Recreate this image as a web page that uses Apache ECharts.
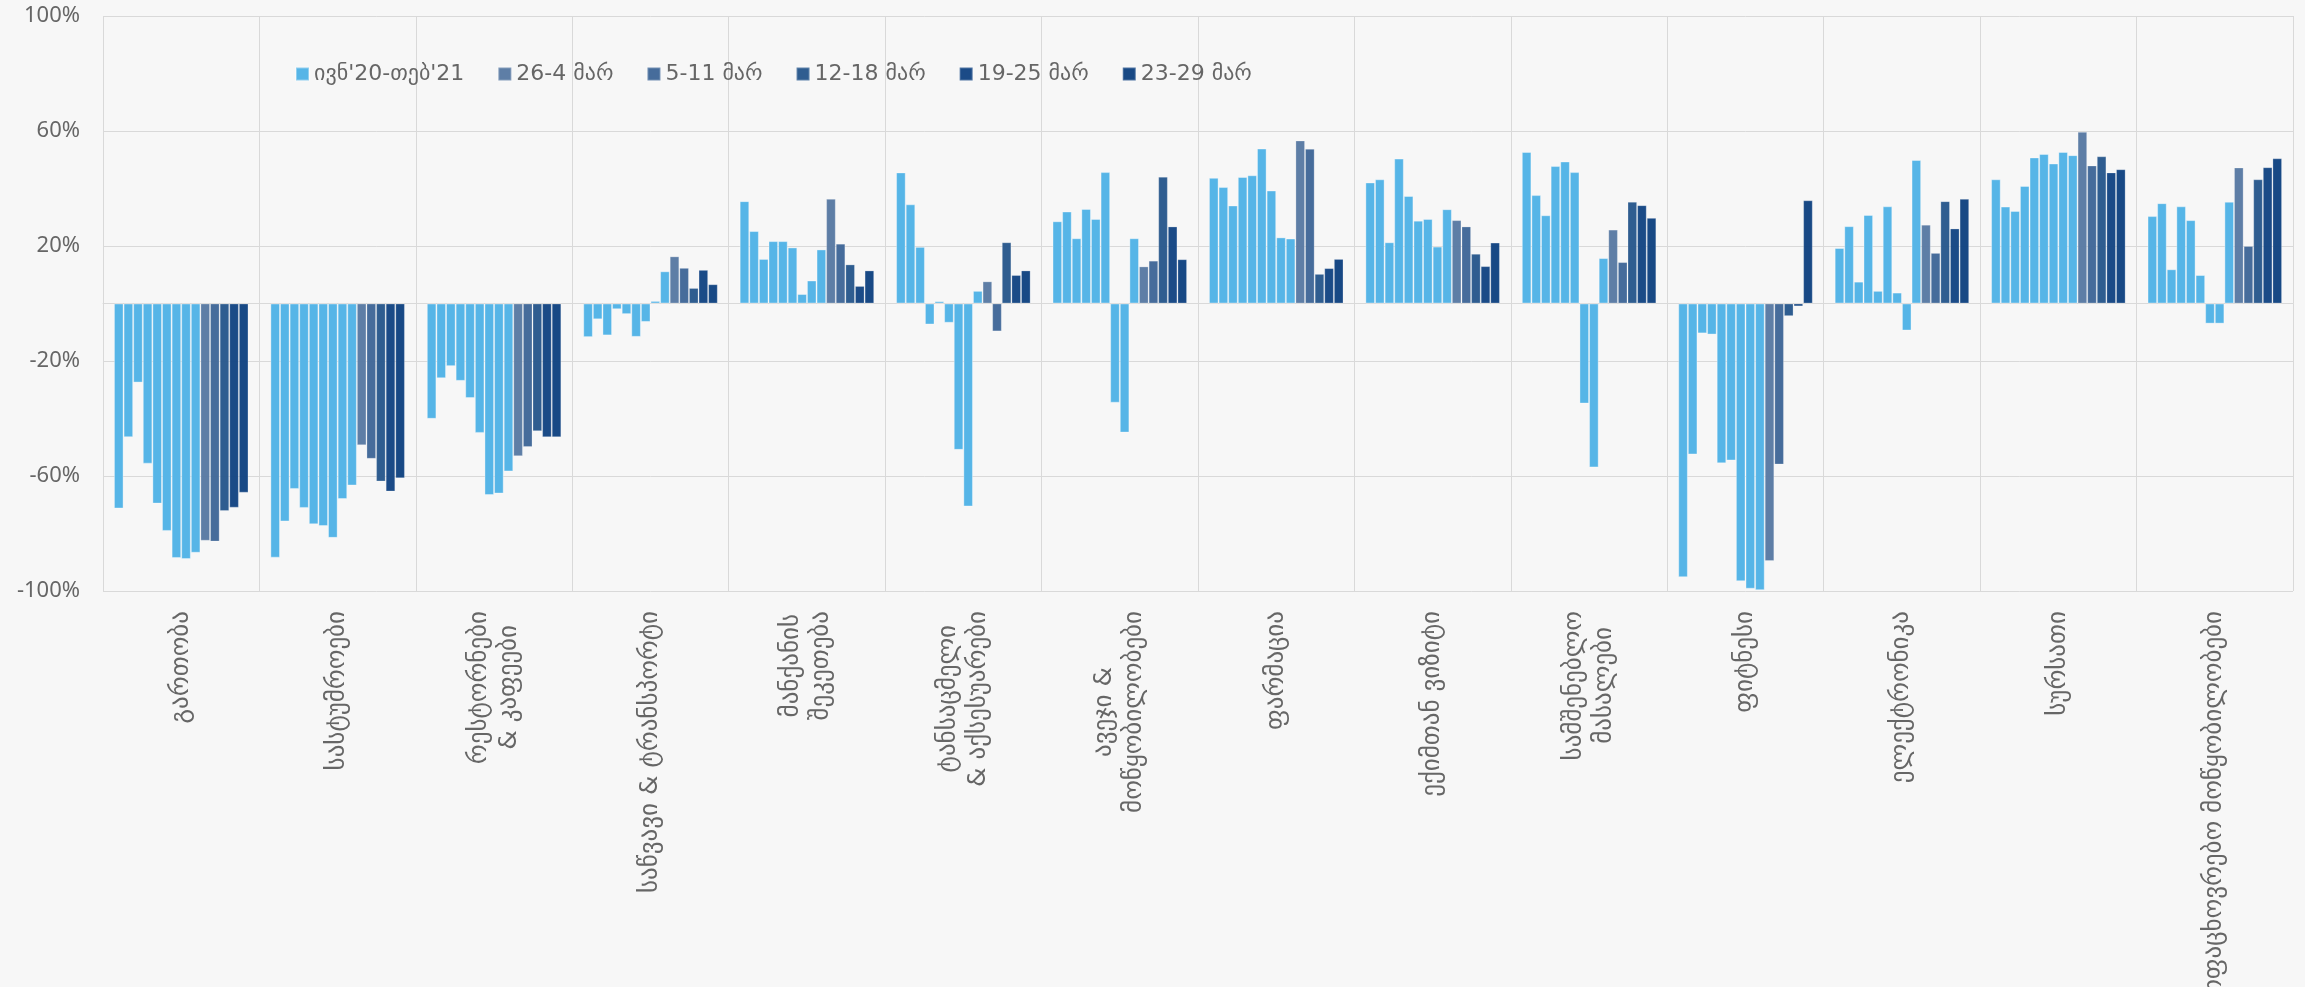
<!DOCTYPE html>
<html>
<head>
<meta charset="utf-8">
<script src="https://cdn.jsdelivr.net/npm/echarts@6/dist/echarts.min.js"></script>
<style>
html,body{margin:0;padding:0;background:#f7f7f7;}
#chart{width:2305px;height:987px;}
</style>
</head>
<body>
<div id="chart"></div>
<script>
// Categories (x-axis)
const categories = ['გართობა','სასტუმროები','რესტორნები\n& კაფეები','საწვავი & ტრანსპორტი','მანქანის\nშეკეთება','ტანსაცმელი\n& აქსესუარები','ავეჯი &\nმოწყობილობები','ფარმაცია','ექიმთან ვიზიტი','სამშენებლო\nმასალები','ფიტნესი','ელექტრონიკა','სურსათი','საყოფაცხოვრებო მოწყობილობები'];

// Y-axis ticks
const yTicks = [-100, -60, -20, 20, 60, 100];

// Monthly values (Jun'20 – Feb'21), % change
const jun20 = [-71.3, -88.4, -40.1, -11.7, 35.6, 45.6, 28.6, 43.7, 42.1, 52.7, -95.2, 19.3, 43.2, 30.4];
const jul20 = [-46.5, -75.8, -26.0, -5.5, 25.2, 34.5, 32.0, 40.5, 43.2, 37.7, -52.5, 26.9, 33.7, 34.9];
const aug20 = [-27.5, -64.5, -21.8, -11.1, 15.5, 19.7, 22.7, 34.1, 21.3, 30.7, -10.4, 7.6, 32.2, 11.9];
const sep20 = [-55.7, -71.1, -26.9, -2.0, 21.7, -7.3, 32.9, 44.0, 50.4, 47.8, -10.8, 30.8, 40.9, 33.8];
const oct20 = [-69.6, -76.8, -32.9, -3.7, 21.7, 0.8, 29.4, 44.6, 37.4, 49.4, -55.6, 4.4, 50.8, 29.0];
const nov20 = [-79.1, -77.4, -45.0, -11.6, 19.5, -6.7, 45.7, 53.9, 28.8, 45.7, -54.6, 33.8, 52.0, 9.9];
const dec20 = [-88.5, -81.5, -66.6, -6.4, 3.3, -50.9, -34.5, 39.3, 29.4, -34.8, -96.6, 3.8, 48.7, -7.0];
const jan21 = [-88.9, -68.0, -66.1, 0.9, 8.0, -70.6, -44.9, 23.0, 19.8, -57.0, -99.2, -9.4, 52.7, -7.0];
const feb21 = [-86.7, -63.3, -58.4, 11.2, 18.8, 4.4, 22.7, 22.6, 32.8, 15.8, -99.7, 49.9, 51.6, 35.4];

// Weekly values (March 2021)
const wk1 = [-82.5, -49.3, -53.1, 16.4, 36.4, 7.7, 12.9, 56.7, 29.0, 25.7, -89.6, 27.4, 59.7, 47.3];
const wk2 = [-82.8, -54.0, -49.9, 12.4, 20.8, -9.7, 14.9, 53.8, 26.8, 14.4, -56.0, 17.6, 48.0, 20.0];
const wk3 = [-72.2, -61.9, -44.4, 5.4, 13.6, 21.3, 44.1, 10.3, 17.3, 35.4, -4.4, 35.6, 51.2, 43.2];
const wk4 = [-71.0, -65.4, -46.5, 11.7, 6.1, 9.9, 26.8, 12.3, 13.0, 34.2, -1.0, 26.1, 45.6, 47.4];
const wk5 = [-65.8, -60.8, -46.5, 6.7, 11.5, 11.5, 15.4, 15.5, 21.2, 29.8, 35.9, 36.4, 46.7, 50.5];

// Legend names
const monthlyName = "ივნ'20-თებ'21";
const weeklyNames = ['26-4 მარ', '5-11 მარ', '12-18 მარ', '19-25 მარ', '23-29 მარ'];

const monthlySets = [jun20, jul20, aug20, sep20, oct20, nov20, dec20, jan21, feb21];
const weeklySets = [wk1, wk2, wk3, wk4, wk5];
const monthlyColor = '#56b5e7';
const weeklyColors = ['#5779a2', '#3e6697', '#27568b', '#124482', '#0f4280'];

const FONT = "'Noto Sans', 'DejaVu Sans', sans-serif";
const GEO = "'DejaVu Sans', 'Noto Sans', sans-serif";
const LABEL_SIZE = 25;
const LABEL_LH = 30;

// Rich styles so that lines of two-line labels are centred on one another
const measureCtx = document.createElement('canvas').getContext('2d');
measureCtx.font = LABEL_SIZE + "px 'DejaVu Sans'";
const rich = {};
const labelTexts = categories.map((cat, idx) => {
  const lines = cat.split('\n');
  const widths = lines.map(s => measureCtx.measureText(s).width);
  const maxW = Math.max.apply(null, widths);
  return lines.map((s, i) => {
    const key = 'L' + idx + '_' + i;
    rich[key] = {
      color: '#666', fontSize: LABEL_SIZE, fontFamily: GEO, lineHeight: LABEL_LH,
      padding: [0, Math.round((maxW - widths[i]) / 2), 0, 0]
    };
    return '{' + key + '|' + s + '}';
  }).join('\n');
});

const series = [];
monthlySets.forEach(d => series.push({
  name: monthlyName, type: 'bar', data: d,
  barGap: '0%', barCategoryGap: '14%',
  itemStyle: { color: monthlyColor, borderColor: 'rgba(255,255,255,0.35)', borderWidth: 1 }
}));
weeklySets.forEach((d, i) => series.push({
  name: weeklyNames[i], type: 'bar', data: d,
  barGap: '0%', barCategoryGap: '14%',
  itemStyle: { color: weeklyColors[i], borderColor: 'rgba(255,255,255,0.25)', borderWidth: 1, opacity: 0.96 }
}));

const chart = echarts.init(document.getElementById('chart'), null, { renderer: 'canvas' });
chart.setOption({
  backgroundColor: '#f7f7f7',
  animation: false,
  grid: { left: 103, right: 12, top: 16, bottom: 396, containLabel: false, outerBoundsMode: 'none' },
  legend: {
    data: [monthlyName].concat(weeklyNames),
    left: 290, top: 58,
    itemWidth: 13, itemHeight: 13, itemGap: 33,
    icon: 'rect',
    textStyle: { color: '#666', fontSize: 22, fontFamily: GEO }
  },
  xAxis: {
    type: 'category',
    data: categories,
    boundaryGap: true,
    axisLine: { show: true, onZero: true, lineStyle: { color: '#d9d9d9', width: 1 } },
    axisTick: { show: false },
    splitLine: { show: true, lineStyle: { color: '#d9d9d9', width: 1 } },
    axisLabel: {
      interval: 0,
      rotate: 90,
      margin: 20,
      color: '#666',
      fontSize: LABEL_SIZE,
      fontFamily: GEO,
      lineHeight: LABEL_LH,
      hideOverlap: false,
      formatter: (v, idx) => labelTexts[idx],
      rich: rich
    }
  },
  yAxis: {
    type: 'value',
    min: yTicks[0], max: yTicks[yTicks.length - 1], interval: 40,
    axisLine: { show: false },
    axisTick: { show: false },
    splitLine: { show: true, lineStyle: { color: '#d9d9d9', width: 1 } },
    axisLabel: { formatter: '{value}%', color: '#666', fontSize: 22, fontFamily: FONT, margin: 23 }
  },
  series: series
});
</script>
</body>
</html>
